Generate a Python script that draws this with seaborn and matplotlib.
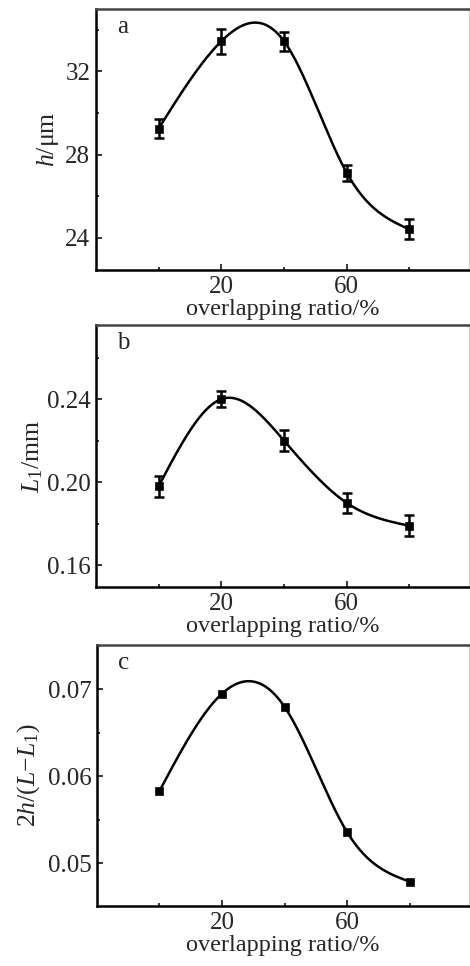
"""
Overlapping ratio vs. h, L1 and 2h/(L-L1) - three stacked panels
"""
import numpy as np
import pandas as pd
import seaborn as sns
import matplotlib
matplotlib.use("Agg")
from matplotlib import pyplot as plt
from matplotlib.ticker import MultipleLocator, FixedLocator

"""
Data read from the figure
"""
overlap = [0, 20, 40, 60, 80]

h_um = [29.25, 33.45, 33.45, 27.12, 24.40]
h_err = [0.45, 0.60, 0.45, 0.38, 0.48]

l1_mm = [0.198, 0.240, 0.220, 0.190, 0.179]
l1_err = [0.005, 0.004, 0.005, 0.005, 0.005]

ratio = [0.0583, 0.0695, 0.0680, 0.0536, 0.0479]

sns.set_style("ticks")
plt.rcParams['font.family'] = ['Liberation Serif', 'DejaVu Serif']
plt.rcParams['mathtext.fontset'] = 'custom'
plt.rcParams['mathtext.rm'] = 'Liberation Serif'
plt.rcParams['mathtext.it'] = 'Liberation Serif:italic'
plt.rcParams['font.size'] = 18


def natural_spline(x, y, n=300):
    """
    Natural cubic spline through the measured points (Origin-like spline line)
    """
    x = np.asarray(x, float)
    y = np.asarray(y, float)
    k = len(x)
    h = np.diff(x)
    A = np.zeros((k, k))
    b = np.zeros(k)
    A[0, 0] = 1
    A[-1, -1] = 1
    for i in range(1, k - 1):
        A[i, i - 1] = h[i - 1]
        A[i, i] = 2 * (h[i - 1] + h[i])
        A[i, i + 1] = h[i]
        b[i] = 6 * ((y[i + 1] - y[i]) / h[i] - (y[i] - y[i - 1]) / h[i - 1])
    M = np.linalg.solve(A, b)
    xs = np.linspace(x[0], x[-1], n)
    idx = np.clip(np.searchsorted(x, xs) - 1, 0, k - 2)
    x0, x1 = x[idx], x[idx + 1]
    y0, y1 = y[idx], y[idx + 1]
    m0, m1 = M[idx], M[idx + 1]
    hh = x1 - x0
    ys = (m0 * (x1 - xs) ** 3 / (6 * hh) + m1 * (xs - x0) ** 3 / (6 * hh)
          + (y0 / hh - m0 * hh / 6) * (x1 - xs) + (y1 / hh - m1 * hh / 6) * (xs - x0))
    return pd.DataFrame({"x": xs, "y": ys})


fig = plt.figure(figsize=(4.70, 9.66), dpi=100)
positions = [
    [0.204, 0.7205, 0.794, 0.2702],
    [0.204, 0.3923, 0.794, 0.2713],
    [0.206, 0.0621, 0.792, 0.2702],
]

panels = [
    ("a", h_um, h_err, r"$h$/μm", (22.45, 35.0), 4, 2, "%d", 3),
    ("b", l1_mm, l1_err, r"$L_{\mathrm{1}}$/mm", (0.1495, 0.2757), 0.04, 0.02, "%.2f", 1),
    ("c", ratio, None, r"$2h/(L{-}L_{\mathrm{1}})$", (0.0451, 0.0751), 0.01, 0.005, "%.2f", 4),
]

for pos, (tag, vals, errs, ylab, ylim, major, minor, fmt, pad) in zip(positions, panels):
    ax = fig.add_axes(pos)
    curve = natural_spline(overlap, vals)
    sns.lineplot(data=curve, x="x", y="y", ax=ax, color="black", linewidth=1.8)
    if errs is not None:
        ax.errorbar(overlap, vals, yerr=errs, fmt="none", ecolor="black",
                    elinewidth=1.8, capsize=3.5, capthick=1.8, zorder=3)
    pts = pd.DataFrame({"x": overlap, "y": vals})
    sns.scatterplot(data=pts, x="x", y="y", ax=ax, color="black", marker="s",
                    s=34, edgecolor="black", zorder=4)

    ax.set_xlim(-20, 99)
    ax.set_ylim(*ylim)
    ax.xaxis.set_major_locator(FixedLocator([20, 60]))
    ax.xaxis.set_minor_locator(FixedLocator([0, 40, 80]))
    ax.yaxis.set_major_locator(MultipleLocator(major))
    ax.yaxis.set_minor_locator(MultipleLocator(minor))
    ax.yaxis.set_major_formatter(plt.FormatStrFormatter(fmt))
    ax.tick_params(which="major", direction="in", length=4, width=1.3, pad=4,
                   labelsize=18, top=False, right=False)
    ax.tick_params(which="minor", direction="in", length=2.5, width=1.3,
                   top=False, right=False)
    for side in ["left", "bottom", "top"]:
        ax.spines[side].set_linewidth(1.8)
        ax.spines[side].set_color("black")
    ax.spines["top"].set_color("#444444")
    ax.spines["right"].set_linewidth(0.8)
    ax.spines["right"].set_color("#cccccc")

    ax.set_xlabel("overlapping ratio/%", fontsize=17.5, labelpad=1)
    ax.set_ylabel(ylab, fontsize=18.5, labelpad=pad)
    ax.text(0.056, 0.93, tag, transform=ax.transAxes, fontsize=18,
            ha="left", va="center")
    ax.legend([], frameon=False)

plt.savefig("out.png", dpi=100)
